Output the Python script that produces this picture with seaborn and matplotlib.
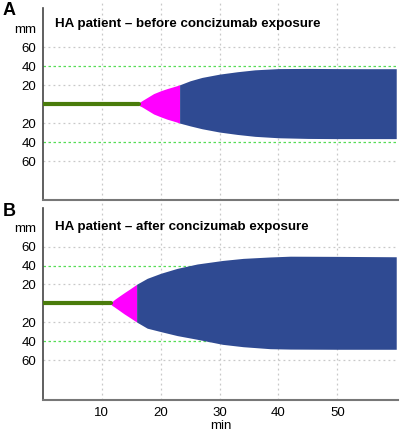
import matplotlib
matplotlib.use("Agg")
import matplotlib.pyplot as plt
import seaborn as sns
import pandas as pd

# tempi e ampiezze (mm)
titles = ["HA patient \u2013 before concizumab exposure", "HA patient \u2013 after concizumab exposure"]
panel_letters = ["A", "B"]

# pannello A
a_green_end = 16.3
a_mag_t = [16.3, 16.8, 17.2, 18.0, 18.8, 20.0, 21.1, 22.2, 23.2]
a_mag_up = [1.5, 3.5, 5.0, 8.0, 11.0, 14.0, 16.3, 18.3, 20.2]
a_mag_lo = [1.5, 3.0, 4.5, 7.5, 10.5, 13.5, 16.0, 18.0, 20.0]
a_blue_t = [23.2, 25.0, 27.0, 30.0, 33.0, 36.0, 40.0, 45.0, 50.0, 55.0, 60.0]
a_blue_up = [20.2, 24.5, 28.0, 31.5, 34.0, 36.0, 37.3, 37.5, 37.3, 37.2, 37.2]
a_blue_lo = [20.0, 23.0, 26.0, 29.5, 32.0, 34.0, 35.5, 36.2, 36.4, 36.4, 36.4]

# pannello B
b_green_end = 11.6
b_mag_t = [11.6, 12.2, 13.0, 13.8, 14.8, 15.9]
b_mag_up = [1.5, 4.5, 8.0, 11.4, 15.5, 20.2]
b_mag_lo = [1.5, 4.0, 7.5, 11.0, 15.0, 19.5]
b_blue_t = [15.9, 17.7, 20.0, 22.8, 26.2, 30.5, 34.0, 38.6, 42.0, 50.0, 60.0]
b_blue_up = [20.2, 26.5, 31.8, 37.0, 41.6, 45.3, 47.5, 49.0, 49.8, 49.6, 49.2]
b_blue_lo = [19.5, 26.0, 29.6, 33.8, 37.7, 43.0, 45.5, 47.6, 48.0, 48.2, 48.2]

y_ticks = [-60, -40, -20, 20, 40, 60, 80]
y_labels = ["60", "40", "20", "20", "40", "60", "mm"]
x_ticks = [10, 20, 30, 40, 50]

sns.set_style("white")
plt.rcParams["font.family"] = ["Liberation Sans", "DejaVu Sans"]
plt.rcParams["text.color"] = "black"
plt.rcParams["xtick.color"] = "black"
plt.rcParams["ytick.color"] = "black"
plt.rcParams["axes.labelcolor"] = "black"

GREEN = "#4a7c0b"
MAGENTA = "#ff00ff"
BLUE = "#2f4a92"

fig = plt.figure(figsize=(4.0, 4.33), dpi=100)
H = 433.0
ax_a = fig.add_axes([43 / 400, 1 - 200 / H, 355 / 400, 200 / H])
ax_b = fig.add_axes([43 / 400, 1 - 400 / H, 355 / 400, 197 / H])

panels = [
    (ax_a, a_green_end, a_mag_t, a_mag_up, a_mag_lo, a_blue_t, a_blue_up, a_blue_lo, (-101, 109.5)),
    (ax_b, b_green_end, b_mag_t, b_mag_up, b_mag_lo, b_blue_t, b_blue_up, b_blue_lo, (-101.6, 105.8)),
]

for i, (ax, g_end, mt, mu, ml, bt, bu, bl, ylim) in enumerate(panels):
    # griglia
    for x in x_ticks:
        ax.axvline(x, color="#c8c8c8", lw=0.9, ls=(0, (1.5, 2.5)), zorder=0)
    for y in [-60, -20, 20, 60]:
        ax.axhline(y, color="#c8c8c8", lw=0.9, ls=(0, (1.5, 2.5)), zorder=0)
    for y in [-40, 40]:
        ax.axhline(y, color="#55dd55", lw=0.9, ls=(0, (2, 2)), zorder=0)

    df_g = pd.DataFrame({"t": [0, g_end], "v": [0, 0]})
    sns.lineplot(data=df_g, x="t", y="v", color=GREEN, lw=3, ax=ax, zorder=3)
    ax.fill_between(mt, [-v for v in ml], mu, color=MAGENTA, lw=0, zorder=2)
    ax.fill_between(bt, [-v for v in bl], bu, color=BLUE, lw=0, zorder=2)

    ax.set_xlim(0, 60.3)
    ax.set_ylim(*ylim)
    ax.set_yticks(y_ticks)
    ax.set_yticklabels(y_labels, fontsize=9.5)
    ax.tick_params(axis="y", length=0, pad=5)
    ax.set_xticks(x_ticks)
    ax.set_xlabel("")
    ax.set_ylabel("")
    for s in ["top", "right"]:
        ax.spines[s].set_visible(False)
    ax.spines["left"].set_bounds(ylim[0], 101)
    ax.spines["left"].set_color("#444444")
    ax.spines["left"].set_linewidth(1.2)
    ax.spines["bottom"].set_color("#777777")
    ax.spines["bottom"].set_linewidth(1.5)

    ax.text(0.034, 0.878, titles[i], transform=ax.transAxes, fontsize=9.6,
            fontweight="bold", va="center", ha="left")

ax_a.tick_params(axis="x", length=0, labelbottom=False)
ax_b.tick_params(axis="x", length=0, labelsize=9.5, pad=5)
ax_b.set_xlabel("min", fontsize=9.5, labelpad=1)

fig.text(3 / 400, 1 - 2 / H, "A", fontsize=13, fontweight="bold", va="top", ha="left")
fig.text(3 / 400, 1 - 203 / H, "B", fontsize=13, fontweight="bold", va="top", ha="left")

fig.savefig("out.png", dpi=100)
